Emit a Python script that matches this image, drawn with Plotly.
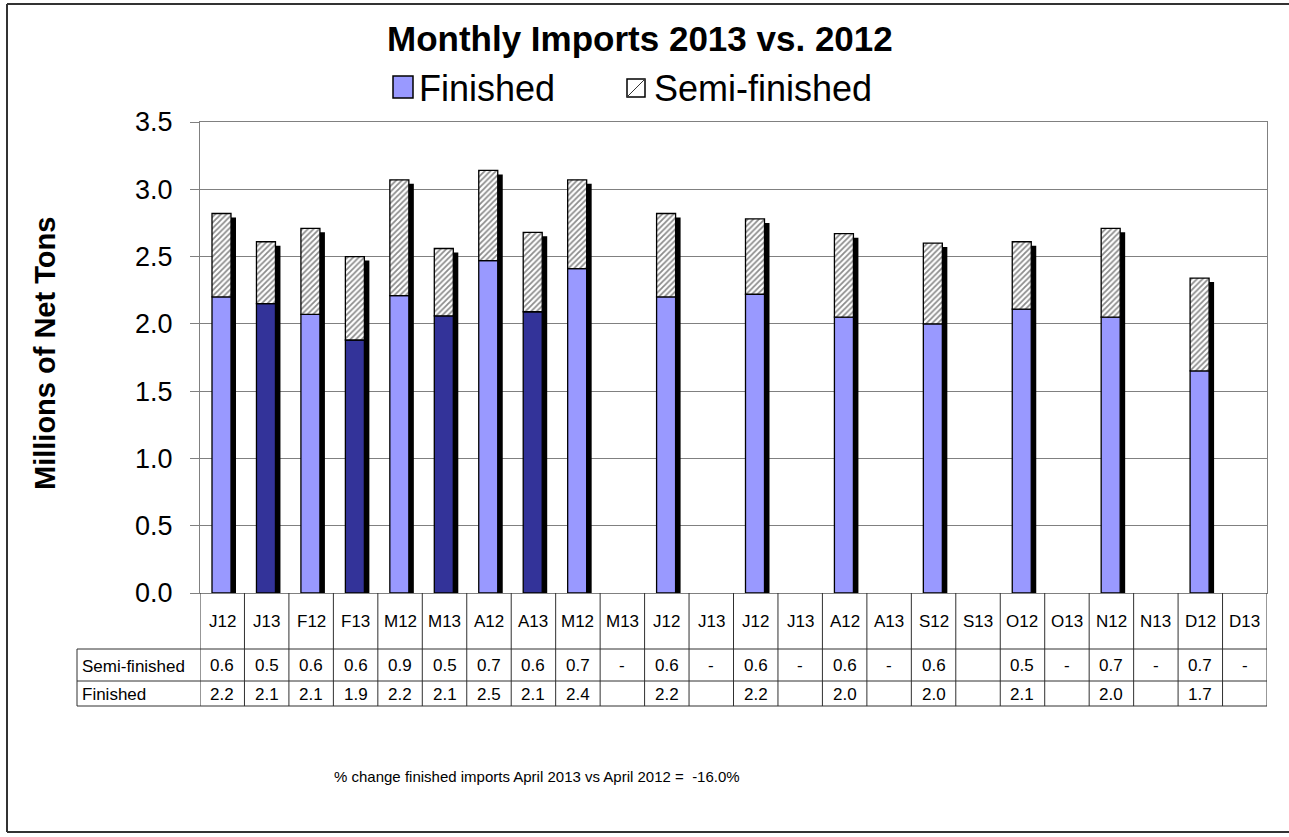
import plotly.graph_objects as go

# ---------------- data ----------------
months = ["J12", "J13", "F12", "F13", "M12", "M13", "A12", "A13", "M12", "M13",
          "J12", "J13", "J12", "J13", "A12", "A13", "S12", "S13", "O12", "O13",
          "N12", "N13", "D12", "D13"]
finished = [2.20, 2.15, 2.07, 1.88, 2.21, 2.06, 2.47, 2.09, 2.41, None,
            2.20, None, 2.22, None, 2.05, None, 2.00, None, 2.11, None,
            2.05, None, 1.65, None]
semi = [0.62, 0.46, 0.64, 0.62, 0.86, 0.50, 0.67, 0.59, 0.66, None,
        0.62, None, 0.56, None, 0.62, None, 0.60, None, 0.50, None,
        0.66, None, 0.69, None]
semi_labels = ["0.6", "0.5", "0.6", "0.6", "0.9", "0.5", "0.7", "0.6", "0.7", "-",
               "0.6", "-", "0.6", "-", "0.6", "-", "0.6", "", "0.5", "-",
               "0.7", "-", "0.7", "-"]
fin_labels = ["2.2", "2.1", "2.1", "1.9", "2.2", "2.1", "2.5", "2.1", "2.4", "",
              "2.2", "", "2.2", "", "2.0", "", "2.0", "", "2.1", "",
              "2.0", "", "1.7", ""]
y_ticks = [0.0, 0.5, 1.0, 1.5, 2.0, 2.5, 3.0, 3.5]
title_text = "Monthly Imports 2013 vs. 2012"
series_names = ["Finished", "Semi-finished"]
row_names = ["Semi-finished", "Finished"]
note_text = "% change finished imports April 2013 vs April 2012 =  -16.0%"

# ---------------- layout geometry (pixels) ----------------
W, H = 1289, 837
L, R, T, B = 200, 1267, 122, 593
FONT = "Liberation Sans, Arial, sans-serif"


def pxx(p):
    return (p - L) / (R - L)


def pxy(p):
    return (B - p) / (B - T)


n = len(months)
x = list(range(n))
totals = [None if f is None else f + s for f, s in zip(finished, semi)]
fin_colors = ["#333399" if m.endswith("13") else "#9999FF" for m in months]

col_px = (R - L) / n
unit_px = (B - T) / (y_ticks[-1] - y_ticks[0])
BAR_W = 19 / col_px
BAR_OFF = -0.23
SH_DX = 5 / col_px
SH_DY = 4 / unit_px

fig = go.Figure()
fig.add_trace(go.Bar(
    x=x, y=totals, base=-SH_DY, width=BAR_W, offset=BAR_OFF + SH_DX,
    marker=dict(color="black", line=dict(width=0)),
    showlegend=False, hoverinfo="skip"))
fig.add_trace(go.Bar(
    x=x, y=finished, width=BAR_W, offset=BAR_OFF, name=series_names[0],
    marker=dict(color=fin_colors, line=dict(color="black", width=1.3)),
    showlegend=False))
fig.add_trace(go.Bar(
    x=x, y=semi, base=finished, width=BAR_W, offset=BAR_OFF, name=series_names[1],
    marker=dict(color="white", line=dict(color="black", width=1.3),
                pattern=dict(shape="/", fgcolor="#1a1a1a", bgcolor="white",
                             size=4, solidity=0.45)),
    showlegend=False))

shapes = []
annotations = []
LINE = dict(color="#303030", width=1)


def note(xp, yp, text, size, bold=False, xanchor="center", xref="paper", angle=0):
    annotations.append(dict(
        x=xp, y=yp, xref=xref, yref="paper", xanchor=xanchor, yanchor="middle",
        text=("<b>%s</b>" % text) if bold else text, showarrow=False, textangle=angle,
        font=dict(family=FONT, size=size, color="black")))


# table geometry
row_top = B
row_cat = 649
row_semi = 681
row_fin = 706
table_left = 77

for i in range(n + 1):
    xb = i - 0.5
    shapes.append(dict(type="line", xref="x", yref="paper", x0=xb, x1=xb,
                       y0=pxy(row_top), y1=pxy(row_fin), line=LINE))
for yy in (row_cat, row_semi, row_fin):
    shapes.append(dict(type="line", xref="paper", yref="paper",
                       x0=pxx(table_left), x1=1, y0=pxy(yy), y1=pxy(yy), line=LINE))
shapes.append(dict(type="line", xref="paper", yref="paper",
                   x0=pxx(table_left), x1=pxx(table_left),
                   y0=pxy(row_cat), y1=pxy(row_fin), line=LINE))

for i, m in enumerate(months):
    note(i, pxy((row_top + row_cat) / 2), m, 17, xref="x")
    note(i, pxy((row_cat + row_semi) / 2), semi_labels[i], 17, xref="x")
    note(i, pxy((row_semi + row_fin) / 2 + 1), fin_labels[i], 17, xref="x")
for label, (a, b) in zip(row_names, [(row_cat, row_semi), (row_semi, row_fin)]):
    note(pxx(table_left + 3), pxy((a + b) / 2 + 1), label, 17, xanchor="left")

note(pxx(640), pxy(38), title_text, 35, bold=True)
note(pxx(45), pxy(354), "Millions of Net Tons", 29, bold=True, angle=-90)
note(pxx(537), pxy(776), note_text, 15)

# manual legend
shapes.append(dict(type="rect", xref="paper", yref="paper",
                   x0=pxx(393), x1=pxx(413), y0=pxy(76), y1=pxy(98),
                   fillcolor="#9999FF", line=dict(color="black", width=1.5)))
note(pxx(417), pxy(88), series_names[0], 36, xanchor="left")
hx0, hx1, hy0, hy1 = 627, 645, 79, 97
shapes.append(dict(type="rect", xref="paper", yref="paper",
                   x0=pxx(hx0), x1=pxx(hx1), y0=pxy(hy0), y1=pxy(hy1),
                   fillcolor="white", line=dict(color="black", width=1.5)))
step = 3
size = hx1 - hx0
for k in range(step, 2 * size, step):
    xa, ya = hx0 + max(0, k - size), hy1 - min(k, size)
    xb, yb = hx0 + min(k, size), hy1 - max(0, k - size)
    shapes.append(dict(type="line", xref="paper", yref="paper",
                       x0=pxx(xa), x1=pxx(xb), y0=pxy(yb), y1=pxy(ya),
                       line=dict(color="#333333", width=1)))
note(pxx(652), pxy(88), series_names[1], 36, xanchor="left")

# outer border (left, top, bottom)
BORDER = dict(color="#333333", width=2)
shapes.append(dict(type="line", xref="paper", yref="paper",
                   x0=pxx(7), x1=pxx(7), y0=pxy(4), y1=pxy(832), line=BORDER))
shapes.append(dict(type="line", xref="paper", yref="paper",
                   x0=pxx(7), x1=pxx(W + 5), y0=pxy(4), y1=pxy(4), line=BORDER))
shapes.append(dict(type="line", xref="paper", yref="paper",
                   x0=pxx(7), x1=pxx(W + 5), y0=pxy(832), y1=pxy(832), line=BORDER))

fig.update_layout(
    width=W, height=H,
    margin=dict(l=L, r=W - R, t=T, b=H - B, pad=0),
    paper_bgcolor="white", plot_bgcolor="white",
    barmode="overlay",
    showlegend=False,
    shapes=shapes, annotations=annotations,
    font=dict(family=FONT, color="black"),
    xaxis=dict(range=[-0.5, n - 0.5], showticklabels=False, showgrid=False,
               zeroline=False, showline=True, linecolor="#808080", linewidth=1,
               mirror=True, ticks="", fixedrange=True),
    yaxis=dict(range=[y_ticks[0], y_ticks[-1]], tickvals=y_ticks,
               ticktext=["%.1f" % v for v in y_ticks],
               ticks="outside", ticklen=9, tickcolor="#808080", tickwidth=1,
               showgrid=True, gridcolor="#808080", gridwidth=1,
               zeroline=False, showline=True, linecolor="#808080", linewidth=1,
               mirror=True, ticklabelstandoff=12,
               tickfont=dict(family=FONT, size=27, color="black"), fixedrange=True),
)

fig.write_html("out.html",
               config={"displayModeBar": False},
               post_script="document.body.style.margin='0px';"
                           "document.body.style.overflow='hidden';")
